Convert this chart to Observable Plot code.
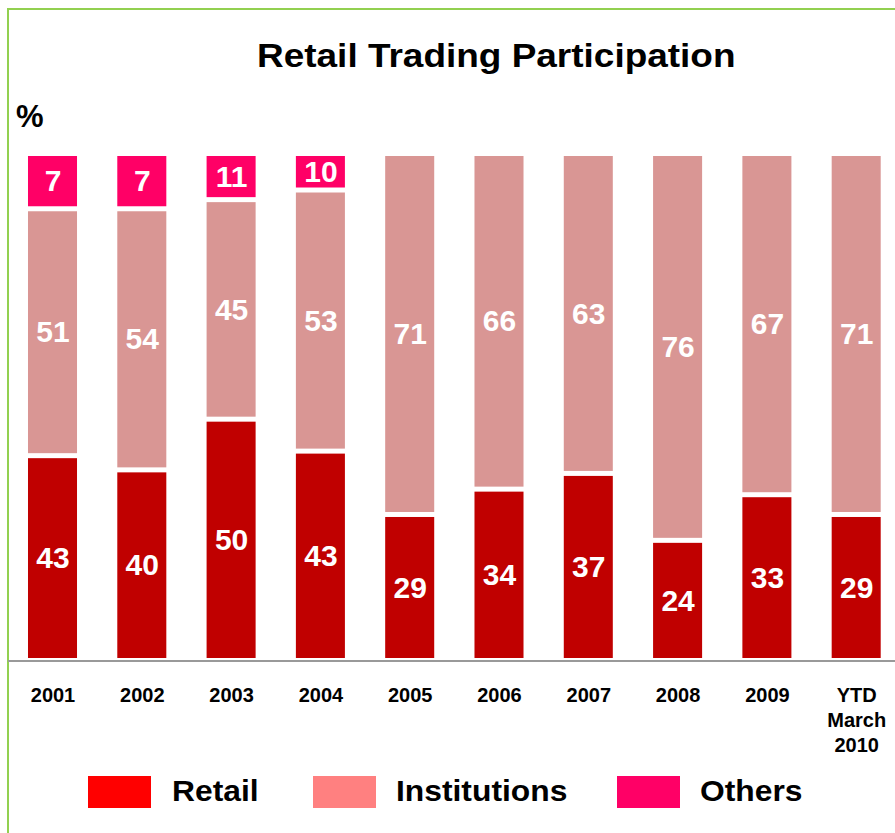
<!DOCTYPE html>
<html>
<head>
<meta charset="utf-8">
<script src="https://cdn.jsdelivr.net/npm/d3@7"></script>
<script src="https://cdn.jsdelivr.net/npm/@observablehq/plot@0.6"></script>
<style>
  html, body { margin: 0; padding: 0; background: #fff; overflow: hidden; width: 895px; height: 833px; }
  body { position: relative; font-family: "Liberation Sans", Arial, sans-serif; }
  #frame { position: absolute; left: 7px; top: 8px; width: 2000px; height: 2000px; border: 2px solid #92d050; box-sizing: border-box; }
  #chart { position: absolute; left: 0; top: 0; }
  #title { position: absolute; left: 257px; top: 39px; font-size: 33px; line-height: 33px; font-weight: bold; color: #000; transform: scaleX(1.12); transform-origin: 0 0; white-space: nowrap; }
  #pct { position: absolute; left: 16px; top: 101px; font-size: 31px; line-height: 31px; font-weight: bold; color: #000; }
  .sw { position: absolute; top: 776px; width: 63px; height: 32px; }
  .lt { position: absolute; top: 776px; font-size: 30px; line-height: 30px; font-weight: bold; color: #000; transform: scaleX(1.06); transform-origin: 0 0; white-space: nowrap; }
</style>
</head>
<body>
<div id="frame"></div>
<div id="title">Retail Trading Participation</div>
<div id="pct">%</div>
<div id="chart"></div>
<div id="legend"></div>
<script>
// Categories (tick labels)
const categories = ["2001", "2002", "2003", "2004", "2005", "2006", "2007", "2008", "2009", "YTD\nMarch\n2010"];
const seriesNames = ["Retail", "Institutions", "Others"];

// Segment shares as drawn (percent of bar height)
const retailShare       = [40.4, 37.6, 47.6, 41.3, 28.8, 33.8, 36.9, 23.7, 32.7, 28.8];
const institutionsShare = [48.7, 51.5, 43.3, 51.5, 71.2, 66.2, 63.1, 76.3, 67.3, 71.2];
const othersShare       = [10.9, 10.9,  9.1,  7.2,  0,    0,    0,    0,    0,    0];

// Printed values
const retailLabel       = [43, 40, 50, 43, 29, 34, 37, 24, 33, 29];
const institutionsLabel = [51, 54, 45, 53, 71, 66, 63, 76, 67, 71];
const othersLabel       = [7, 7, 11, 10, null, null, null, null, null, null];

const barColors = ["#c00000", "#d99694", "#ff0066"];
const legendColors = ["#ff0000", "#ff8080", "#ff0066"];

const rows = [];
categories.forEach((c, i) => {
  rows.push({year: c, series: "Retail", share: retailShare[i], label: retailLabel[i]});
  rows.push({year: c, series: "Institutions", share: institutionsShare[i], label: institutionsLabel[i]});
  rows.push({year: c, series: "Others", share: othersShare[i], label: othersLabel[i]});
});

const chart = Plot.plot({
  width: 895,
  height: 760,
  marginTop: 153.5,
  marginBottom: 99.5,
  marginLeft: 8,
  marginRight: 0,
  style: {fontFamily: "'Liberation Sans', Arial, sans-serif", background: "transparent", color: "#000"},
  x: {domain: categories, paddingInner: 0.451, paddingOuter: 0.192, align: 0.583, round: false, label: null},
  y: {domain: [0, 100], axis: null},
  color: {domain: seriesNames, range: barColors},
  marks: [
    Plot.barY(rows, {x: "year", y: "share", z: "series", fill: "series", order: seriesNames, insetTop: 2.5, insetBottom: 2.5}),
    Plot.text(rows.filter(d => d.label != null), Plot.stackY({
      x: "year", y: "share", z: "series", text: "label", order: seriesNames,
      fill: "white", fontSize: 30, fontWeight: "bold"
    })),
    Plot.ruleY([0], {stroke: "#999", strokeWidth: 2}),
    Plot.axisX({tickSize: 0, tickPadding: 23.5, fontSize: 20, fontWeight: "bold", lineHeight: 1.25, label: null, fill: "#000"})
  ]
});
document.getElementById("chart").appendChild(chart);

// Legend
const legend = document.getElementById("legend");
const swX = [88, 313, 617];
const txX = [172, 396, 700];
seriesNames.forEach((name, i) => {
  const s = document.createElement("div");
  s.className = "sw";
  s.style.left = swX[i] + "px";
  s.style.background = legendColors[i];
  legend.appendChild(s);
  const t = document.createElement("div");
  t.className = "lt";
  t.style.left = txX[i] + "px";
  t.textContent = name;
  legend.appendChild(t);
});
</script>
</body>
</html>
